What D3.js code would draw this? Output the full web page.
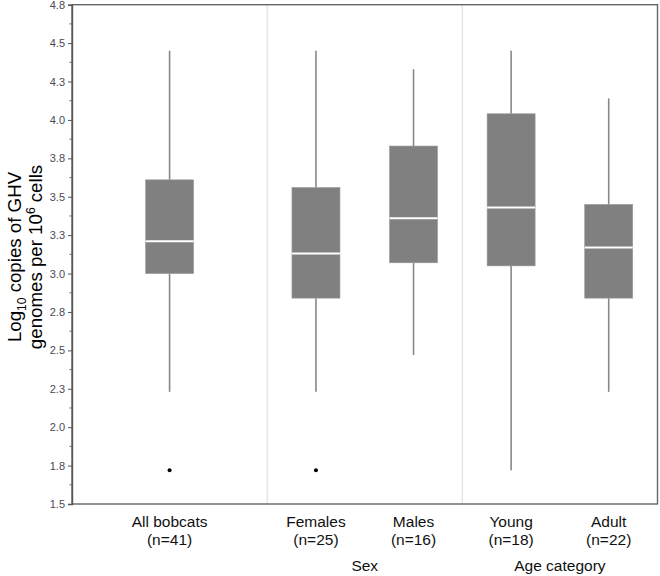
<!DOCTYPE html>
<html><head><meta charset="utf-8">
<script src="https://cdn.jsdelivr.net/npm/d3@7"></script>
<style>body{margin:0;background:#fff}svg{display:block}text{font-family:Arial,"Liberation Sans",sans-serif}</style>
</head><body><svg id="c" width="660" height="576"></svg>
<script>
// ---- data ----
const categories = ["All bobcats","Females","Males","Young","Adult"];
const nLabels = ["(n=41)","(n=25)","(n=16)","(n=18)","(n=22)"];
const groupLabels = ["", "Sex", "Age category"];
const groupMembers = [["All bobcats"],["Females","Males"],["Young","Adult"]];
const whiskerLow  = [2.23, 2.23, 2.47, 1.72, 2.23];
const q1          = [3.00, 2.84, 3.07, 3.05, 2.84];
const median      = [3.21, 3.13, 3.36, 3.43, 3.17];
const q3          = [3.61, 3.56, 3.83, 4.04, 3.45];
const whiskerHigh = [4.45, 4.45, 4.33, 4.45, 4.14];
const outliers    = [[1.72],[1.72],[],[],[]];
const yTickValues = [1.5,1.75,2.0,2.25,2.5,2.75,3.0,3.25,3.5,3.75,4.0,4.25,4.5,4.75];
const yTickLabels = ["1.5","1.8","2.0","2.3","2.5","2.8","3.0","3.3","3.5","3.8","4.0","4.3","4.5","4.8"];
const yMinorTicks = [1.625,1.875,2.125,2.375,2.625,2.875,3.125,3.375,3.625,3.875,4.125,4.375,4.625];

// ---- layout ----
const L=72, R=657.5, T=4.7, B=504;
const svg=d3.select("#c");
const y=d3.scaleLinear().domain([1.5,4.75]).range([B,T]);
const slots = groupMembers.length*2;
const x=d3.scaleLinear().domain([0,slots]).range([L,R]);
const pos={};
groupMembers.forEach((m,gi)=>{
  m.forEach((c,i)=>{ pos[c]= m.length===1 ? gi*2+1 : gi*2+0.5+i; });
});
const boxW=48;

// separators
for(let g=1; g<groupMembers.length; g++){
  svg.append("line").attr("x1",x(g*2)).attr("x2",x(g*2)).attr("y1",T).attr("y2",B)
    .attr("stroke","#e0e0e0").attr("stroke-width",1.2);
}

// boxes
categories.forEach((c,i)=>{
  const cx=x(pos[c]);
  const g=svg.append("g");
  const fill = "#808080";
  g.append("line").attr("x1",cx).attr("x2",cx).attr("y1",y(whiskerHigh[i])).attr("y2",y(q3[i]))
    .attr("stroke","#888").attr("stroke-width",1.6);
  g.append("line").attr("x1",cx).attr("x2",cx).attr("y1",y(q1[i])).attr("y2",y(whiskerLow[i]))
    .attr("stroke","#888").attr("stroke-width",1.6);
  g.append("rect").attr("x",cx-boxW/2).attr("width",boxW)
    .attr("y",y(q3[i])).attr("height",y(q1[i])-y(q3[i]))
    .attr("fill",fill).attr("stroke","#999").attr("stroke-width",0.6);
  g.append("line").attr("x1",cx-boxW/2).attr("x2",cx+boxW/2).attr("y1",y(median[i])).attr("y2",y(median[i]))
    .attr("stroke","#fff").attr("stroke-width",2);
  outliers[i].forEach(v=>{
    g.append("circle").attr("cx",cx).attr("cy",y(v)).attr("r",2).attr("fill","#000");
  });
});

// frame
svg.append("rect").attr("x",L).attr("y",T).attr("width",R-L).attr("height",B-T)
  .attr("fill","none").attr("stroke","#666").attr("stroke-width",1.4);

// y axis
const ax=svg.append("g").attr("transform",`translate(${L},0)`)
  .call(d3.axisLeft(y).tickValues(yTickValues).tickFormat((d,i)=>yTickLabels[i]).tickSize(4).tickPadding(3));
ax.select(".domain").attr("stroke","#555").attr("stroke-width",1.4);
ax.selectAll(".tick line").attr("stroke","#555");
ax.selectAll(".tick text").attr("fill","#4a4a58").style("font-size","11px").style("font-family","Arial,'Liberation Sans',sans-serif");
svg.append("g").selectAll("line").data(yMinorTicks).join("line")
  .attr("x1",L-2.5).attr("x2",L).attr("y1",d=>y(d)).attr("y2",d=>y(d)).attr("stroke","#666");

// y title
const cy=257;
const yt=svg.append("text").attr("transform",`translate(21,${cy}) rotate(-90)`)
  .attr("text-anchor","middle").attr("fill","#000").style("font-size","18.7px");
yt.append("tspan").text("Log");
yt.append("tspan").attr("dy",5).style("font-size","12px").text("10");
yt.append("tspan").attr("dy",-5).text(" copies of GHV");
const yt2=svg.append("text").attr("transform",`translate(41.5,${cy}) rotate(-90)`)
  .attr("text-anchor","middle").attr("fill","#000").style("font-size","18.7px");
yt2.append("tspan").text("genomes per 10");
yt2.append("tspan").attr("dy",-7).style("font-size","12px").text("6");
yt2.append("tspan").attr("dy",7).text(" cells");

// x labels
categories.forEach((c,i)=>{
  const cx=x(pos[c]);
  svg.append("text").attr("x",cx).attr("y",527).attr("text-anchor","middle").style("font-size","15.5px").attr("fill","#111").text(c);
  svg.append("text").attr("x",cx).attr("y",545).attr("text-anchor","middle").style("font-size","15.5px").attr("fill","#111").text(nLabels[i]);
});
groupLabels.forEach((gname,gi)=>{
  if(!gname) return;
  svg.append("text").attr("x",x(gi*2+1)).attr("y",571).attr("text-anchor","middle").style("font-size","15.5px").attr("fill","#111").text(gname);
});
</script></body></html>
